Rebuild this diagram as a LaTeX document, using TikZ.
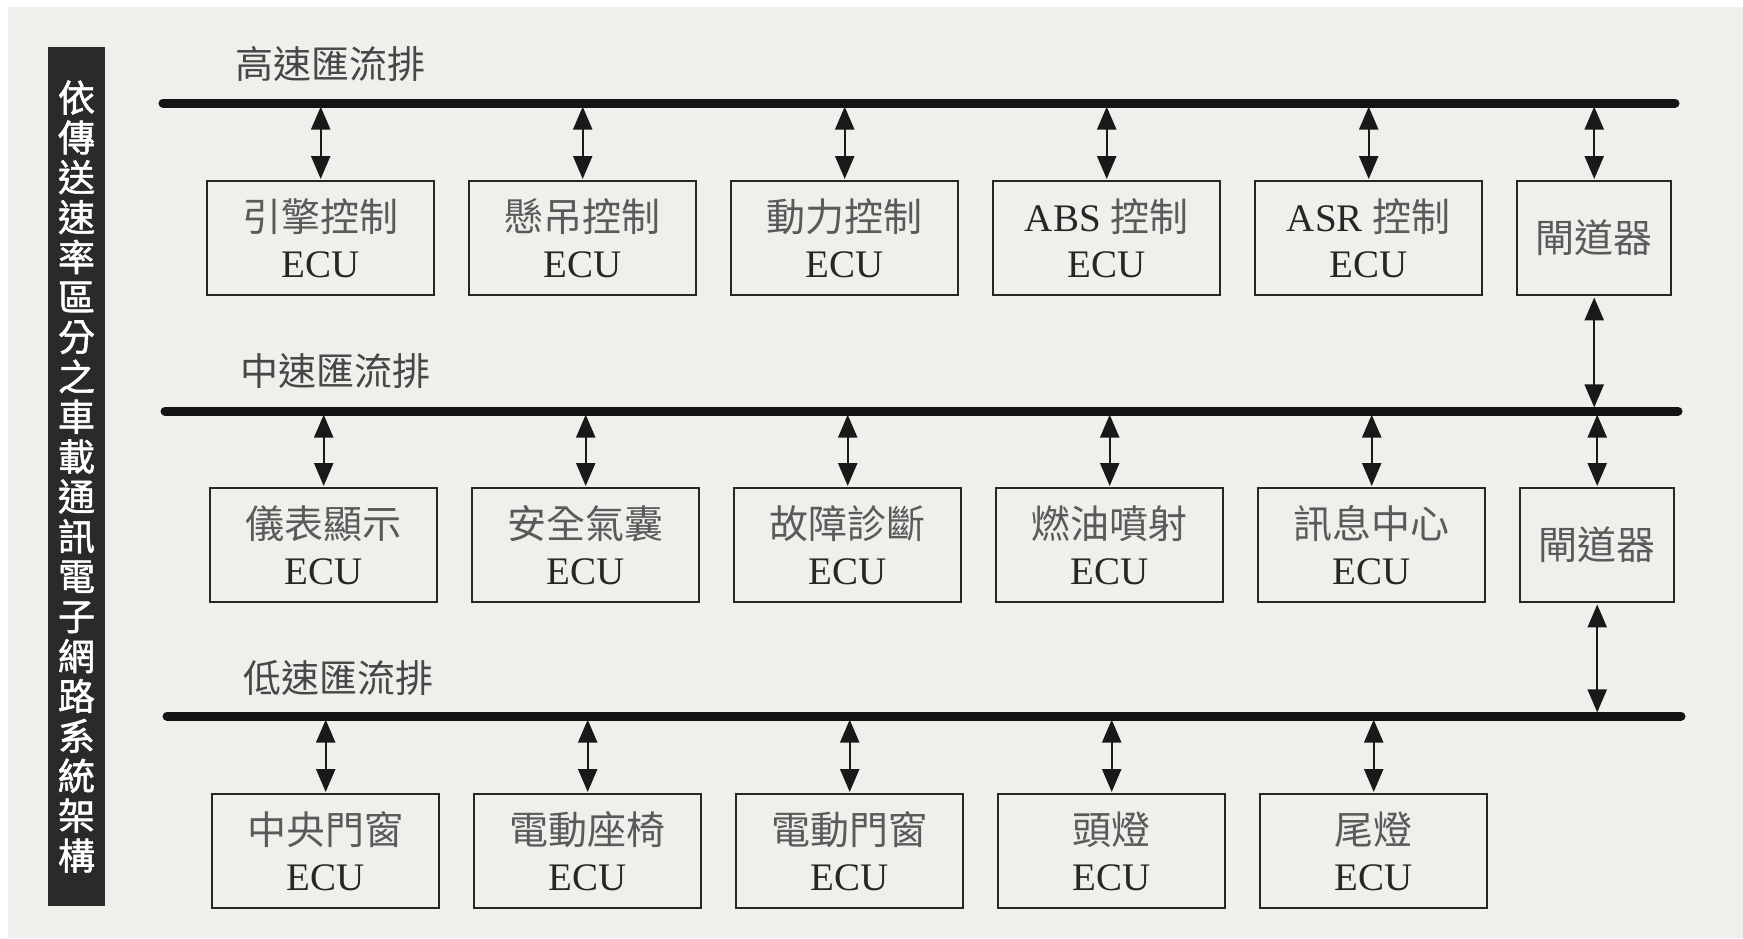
\documentclass[tikz,border=0pt]{standalone}
\usepackage{fontspec}
\setmainfont{Liberation Serif}
\newfontfamily\cjk{Noto Sans CJK TC}
\newfontfamily\cjkbar[FakeBold=1.5]{Noto Sans CJK TC}
\usetikzlibrary{arrows.meta}

\definecolor{paper}{HTML}{F1EFEC}
\definecolor{bardark}{HTML}{2A2A2A}
\definecolor{cjkgray}{HTML}{5A5A5A}

% Chinese label on the first line of a box
\newcommand{\zh}[1]{{\cjk\color{cjkgray}#1}}

\begin{document}
\begin{tikzpicture}[x=0.5pt,y=-0.5pt,
  ecubox/.style={draw=black!85, line width=1.2pt, minimum width=113.5pt,
    minimum height=57pt, inner sep=0pt, align=center, anchor=north west,
    font=\fontsize{19.5}{23}\selectfont, text=black!85},
  gwbox/.style={ecubox, minimum width=77pt},
  bus/.style={line width=4.5pt, line cap=round, draw=black!92},
  link/.style={{Triangle[length=11.5pt,width=9.5pt]}-{Triangle[length=11.5pt,width=9.5pt]},
    line width=1.2pt, draw=black!90, shorten <=0.5pt, shorten >=1.8pt},
  buslabel/.style={font=\cjk\fontsize{19}{19}\selectfont, text=black!72, anchor=west}
]
\useasboundingbox (0,0) rectangle (1743,938);
\fill[white] (0,0) rectangle (1743,938);
\fill[paper] (8,7) rectangle (1743,938);

% title bar on the left
\node[fill=bardark, minimum width=28.5pt, minimum height=429.5pt, inner sep=0pt,
  text=white, align=center, font=\cjkbar\fontsize{18.5}{19.95}\selectfont]
  (bar) at (76.5,476.5)
  {依\\傳\\送\\速\\率\\區\\分\\之\\車\\載\\通\\訊\\電\\子\\網\\路\\系\\統\\架\\構};

% buses
\coordinate (hbL) at (163,103); \coordinate (hbR) at (1675,103);
\coordinate (mbL) at (165,411); \coordinate (mbR) at (1678,411);
\coordinate (lbL) at (167,716); \coordinate (lbR) at (1681,716);
\draw[bus] (hbL) -- (hbR);
\draw[bus] (mbL) -- (mbR);
\draw[bus] (lbL) -- (lbR);
\node[buslabel] (hlab) at (228,64) {高速匯流排};
\node[buslabel] (mlab) at (233,371) {中速匯流排};
\node[buslabel] (llab) at (236,678) {低速匯流排};

% high-speed row
\node[ecubox] (h1) at (206,180) {\zh{引擎控制}\\ECU};
\node[ecubox] (h2) at (468,180) {\zh{懸吊控制}\\ECU};
\node[ecubox] (h3) at (730,180) {\zh{動力控制}\\ECU};
\node[ecubox] (h4) at (992,180) {ABS \zh{控制}\\ECU};
\node[ecubox] (h5) at (1254,180) {ASR \zh{控制}\\ECU};
\node[gwbox]  (hg) at (1516,180) {\zh{閘道器}};

% medium-speed row
\node[ecubox] (m1) at (209,487) {\zh{儀表顯示}\\ECU};
\node[ecubox] (m2) at (471,487) {\zh{安全氣囊}\\ECU};
\node[ecubox] (m3) at (733,487) {\zh{故障診斷}\\ECU};
\node[ecubox] (m4) at (995,487) {\zh{燃油噴射}\\ECU};
\node[ecubox] (m5) at (1257,487) {\zh{訊息中心}\\ECU};
\node[gwbox]  (mg) at (1519,487) {\zh{閘道器}};

% low-speed row
\node[ecubox] (l1) at (211,793) {\zh{中央門窗}\\ECU};
\node[ecubox] (l2) at (473,793) {\zh{電動座椅}\\ECU};
\node[ecubox] (l3) at (735,793) {\zh{電動門窗}\\ECU};
\node[ecubox] (l4) at (997,793) {\zh{頭燈}\\ECU};
\node[ecubox] (l5) at (1259,793) {\zh{尾燈}\\ECU};

% links between buses and units
\foreach \n in {h1,h2,h3,h4,h5,hg}
  \draw[link] (\n.north) -- (\n.north |- hbL);
\foreach \n in {m1,m2,m3,m4,m5,mg}
  \draw[link] (\n.north) -- (\n.north |- mbL);
\foreach \n in {l1,l2,l3,l4,l5}
  \draw[link] (\n.north) -- (\n.north |- lbL);

% gateways down to the next bus
\draw[link] (hg.south) -- (hg.south |- mbL);
\draw[link] (mg.south) -- (mg.south |- lbL);
\end{tikzpicture}
\end{document}
